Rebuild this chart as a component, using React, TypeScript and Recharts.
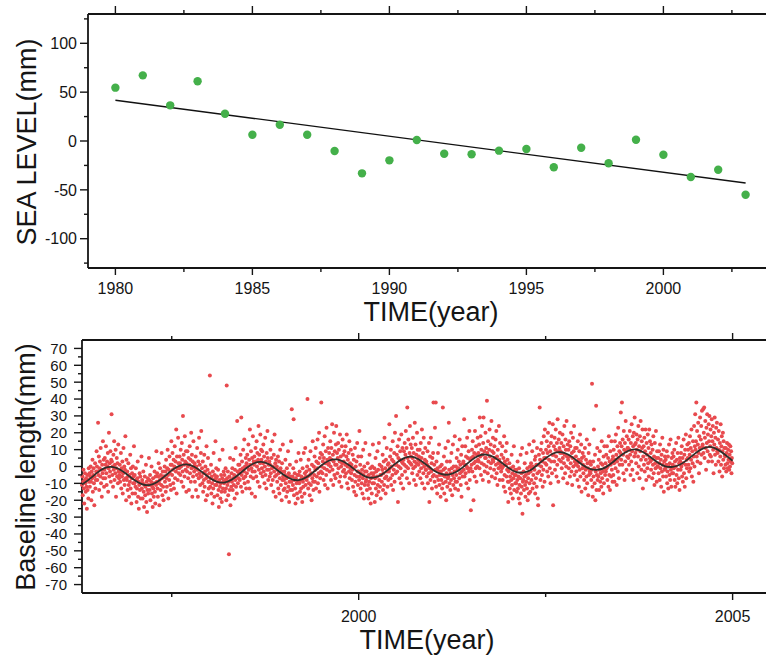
import { ComposedChart, Line, Scatter, XAxis, YAxis } from "recharts";

// ---- top panel: annual mean sea level ----
const seaYears = [
  1980, 1981, 1982, 1983, 1984, 1985, 1986, 1987, 1988, 1989, 1990, 1991,
  1992, 1993, 1994, 1995, 1996, 1997, 1998, 1999, 2000, 2001, 2002, 2003,
];
const seaLevel = [
  54.6, 67.2, 36.5, 61.1, 27.9, 6.4, 16.7, 6.4, -10.2, -33.1, -19.8, 1.0,
  -13.0, -13.6, -9.9, -8.2, -26.9, -6.9, -22.8, 1.3, -14.0, -36.8, -29.4, -55.0,
];
const trendYears = [1980, 2003];
const trendLevel = [41.7, -43.0];
const seaTicksX = [1980, 1982.5, 1985, 1987.5, 1990, 1992.5, 1995, 1997.5, 2000, 2002.5];
const seaTicksY = [-125, -100, -75, -50, -25, 0, 25, 50, 75, 100, 125];

// ---- bottom panel: baseline length, one sample every 0.005 yr ----
const SAMPLE_STEP = 0.005;
const baseline1996 = [
  -11, -6, -17, -9, -2, -13, -22, -8, -4, -10, -15, -7, -12, -25, -5, -14, -8, -19, -1, -9,
  -4, -12, -6, 0, -9, -20, -3, -7, 4, -15, -5, -1, -10, -23, -6, 2, -13, -8, -3, 9,
  0, -8, -3, 26, -5, 6, -14, -1, 3, -6, 11, -10, -2, -18, 1, -4, 15, -7, 4, -12,
  -2, 5, -7, 1, 12, -4, -11, 3, 0, 8, -15, -1, 20, -6, 2, -3, 9, -9, 4, 31,
  3, -5, 0, -12, 7, -2, 15, -8, 1, -4, 10, -18, -1, 5, -6, 2, -10, 13, -3, -7,
  -5, 1, -9, -3, 8, -13, -1, -6, 3, -16, -4, 11, -8, 0, -11, -2, 18, -7, -20, 4,
  -8, -3, -14, -6, 2, -11, -18, -5, -9, 7, -13, -1, -22, -7, -4, -16, 0, -10, -6, 12,
];
const baseline1997 = [
  -10, -5, -16, -12, -1, -8, -21, -13, -7, 3, -18, -9, -25, -11, -4, -14, -6, -19, -10, 6,
  -13, -8, -19, -10, -3, -15, -24, -11, -6, -17, -12, 1, -21, -9, -27, -14, -7, -16, -11, 5,
  -8, -14, -5, -20, -11, -9, 0, -16, -12, -24, -7, -13, -18, -10, -3, -15, -22, -6, -11, 9,
  -9, -4, -13, -18, -6, 2, -10, -23, -8, -1, -14, -5, -11, 8, -7, -17, -3, -12, -20, -6,
  -6, 0, -9, -3, -15, 4, -7, -12, -1, 10, -5, -19, -2, -8, 6, -4, -11, 1, -14, 15,
  1, -5, 8, -2, -10, 4, -13, 0, 12, -7, 3, -3, 22, -16, 6, -1, -8, 17, 2, -4,
  -1, 6, 2, -5, 10, 0, -9, 14, 4, -3, 30, -12, 7, 1, -6, 18, 3, -2, 9, -15,
  2, -3, 9, 0, -7, 5, -14, 1, 12, -4, 4, -9, 20, -1, 7, -18, 3, -6, 15, 0,
  -3, 2, -9, -1, 6, -14, 0, -5, 11, -2, -18, 3, -7, 17, -4, 1, -11, -6, 8, 21,
  -6, -1, -10, 3, -15, -4, -8, 7, -12, -3, 0, -20, -7, 12, -5, -17, -2, 5, -9, -13,
];
const baseline1998 = [
  -9, -4, 54, -12, -7, 1, -16, -6, -10, -22, -3, -13, 8, -8, -18, -5, -11, 15, -7, -1,
  -11, -6, -17, -9, -2, -14, -24, -8, 4, -12, -19, -10, -5, -15, -21, -7, 10, -13, -9, -3,
  -10, -5, -15, -8, -1, -13, -20, 48, -7, -11, -3, -17, -9, -52, -6, -14, 5, -23, -8, -12,
  -4, -9, -1, -14, -7, 4, -11, -5, -19, -2, -8, 11, -12, -6, -16, 27, -3, -10, 1, -7,
  -4, 1, -8, -2, 7, -12, 29, -5, 3, -15, -1, 10, -7, -3, 16, -10, 0, -6, 5, -13,
  2, -4, 7, 0, -9, 13, -2, 4, -13, 22, 1, -6, 9, -1, -16, 5, -3, 18, -7, 3,
  1, 6, -3, -18, 11, 3, -6, 15, 0, 8, -9, 4, 24, -2, 7, -12, 2, 19, -4, 10,
  4, -1, 9, -6, 2, 13, -3, 6, -10, 0, 17, -5, 3, -13, 8, -2, 21, 5, -8, 1,
  -2, 3, -6, 1, 10, -4, -11, 5, -1, 15, -8, 0, -15, 7, -3, 19, -6, 2, -18, 4,
  -5, 0, -9, -2, 6, -13, -4, 3, -16, -7, 10, -1, -11, -3, -20, 2, -8, 13, -6, -14,
];
const baseline1999 = [
  -8, -3, -13, -5, 4, -10, -18, -7, -1, -15, -6, 9, -12, -4, -21, -9, 1, -14, -6, 15,
  -9, 34, -14, -6, -11, -1, 28, -17, -8, -4, -13, -22, -7, 3, -10, -16, -5, -19, -9, 8,
  -5, -10, -3, -15, -8, 4, -13, -6, -18, -21, -1, -9, -12, 8, -7, -16, -4, 11, -11, -6,
  -3, -8, 0, 40, -6, -13, 4, -10, -2, -17, -5, 9, -11, -4, -20, 1, -7, 15, -9, -14,
  0, -5, 6, -9, -2, 11, -13, 3, -6, -1, 16, -10, 2, -4, 20, -15, 5, -7, 8, -3,
  38, 0, 7, -4, 3, 13, -8, 5, -1, 18, -11, 2, 9, -5, 23, -2, 4, -13, 11, 1,
  2, 8, -3, 5, 15, 0, -8, 11, 4, 25, -2, 7, -11, 3, 20, -5, 9, 1, -7, 13,
  24, 1, 8, -4, 5, 14, -1, 10, -9, 3, 19, -6, 6, 0, -12, 12, 2, 16, -3, 7,
  3, -2, 9, -6, 1, 12, -4, 6, 19, -10, 0, 4, -13, 8, -3, 15, -7, 2, -1, 10,
  -4, 1, -8, -2, 7, -12, -1, 4, -15, -5, 11, -9, 0, -17, 3, -6, 14, -3, -11, 6,
];
const baseline2000 = [
  -3, -8, 21, -6, 1, -13, -4, 6, -10, -2, -16, -7, 10, -5, -19, 0, -11, -3, 14, -9,
  -8, -3, -14, -6, 2, -11, -19, -5, -9, 7, -13, -1, -22, -7, -4, -16, 0, -10, 13, -6,
  -4, -10, -1, -21, -7, 5, -13, -3, -17, -6, 9, -11, -2, -15, 14, -8, 1, -12, -5, -19,
  -5, 0, -9, -2, 7, -14, -4, 3, -11, 17, -7, -1, -16, 4, -6, 11, -3, -12, 1, -8,
  2, -3, 25, -1, 6, -7, 10, -11, 0, 4, -5, 15, -14, 3, -2, 8, -9, 20, 1, -4,
  30, 1, 7, -3, 12, -21, 5, 0, 16, -7, 4, 9, -1, -10, 19, 3, -5, 11, 2, -13,
  4, 9, 1, 14, -3, 7, 21, 0, 11, -7, 35, 5, -1, 16, 3, -10, 8, 24, 2, 13,
  6, 1, 11, -4, 5, 17, -1, 8, -8, 3, 26, 0, 13, -11, 7, 2, 20, -5, 10, 4,
  1, 6, -3, 10, 3, -7, 14, -1, 5, 22, -10, 2, 8, -4, 17, 0, -13, 4, 11, -2,
  -2, 3, -6, 1, 9, -10, 0, -4, 14, -21, -1, 6, -8, 17, -3, 2, -13, 5, -6, 8,
];
const baseline2001 = [
  38, -5, 1, -9, 23, -2, 38, -12, 3, -6, -16, -1, 8, -8, -3, 13, -11, -5, 0, -18,
  -3, -8, 1, -13, -5, 35, -10, -2, 6, -16, -6, -1, 11, -9, -20, -4, 3, -12, -7, 15,
  -6, 26, -2, -10, 3, -14, -4, -8, 8, -1, -17, -5, 13, -11, 0, -7, -3, 18, -13, -9,
  0, -5, 5, -9, -2, 10, -14, -1, 3, -7, 16, -4, 1, -11, 7, -18, -3, 12, -6, 2,
  3, -2, 28, -6, 1, 12, -4, 6, -10, 0, 17, -1, 5, -13, 9, -3, 21, -8, 4, -1,
  -26, 5, 1, 10, -3, 15, 6, -20, 2, 8, -6, 21, 3, -1, 12, -9, 7, 0, 17, 4,
  8, 3, 13, -1, 29, 6, 18, -5, 10, 2, 24, 7, -8, 14, 29, 1, 9, -3, 5, 20,
  5, 11, 0, 39, 8, -4, 15, 3, -9, 10, 22, 6, -1, 13, 2, 27, -6, 9, 4, 17,
  3, 8, -2, 12, 5, -7, 16, 1, 21, -4, 6, -11, 10, 2, -1, 24, 4, -8, 14, 0,
  2, -3, 7, -1, 12, -8, 0, 5, -12, 18, -5, 3, -15, 9, 1, -6, 14, -2, 4, -9,
];
const baseline2002 = [
  -21, -3, -9, 2, -13, -6, -1, -16, -8, 7, -11, -4, -19, 0, -7, 12, -14, -5, -2, -10,
  -5, -10, -2, -15, -8, 3, -13, -6, -19, -1, -11, -22, -7, 7, -16, -4, -12, 11, -28, -9,
  -8, -3, -14, -6, 2, -11, -18, -5, -9, 8, -13, -1, -20, -7, -4, -16, 13, -10, 0, -15,
  -3, 2, -8, -1, 9, -13, 0, -5, 15, -10, -2, 4, -16, 6, -7, 1, -12, 11, -4, -19,
  -23, 1, 7, -3, 35, 4, -8, 10, 0, 14, -5, 3, -12, 8, -2, 18, 5, -9, 22, 2,
  5, 10, 1, 15, -3, 8, 20, -6, 12, 4, 26, -1, 9, -10, 14, 3, 18, -4, 7, 25,
  -23, 7, 12, 3, 17, -2, 10, 22, 6, -6, 14, 1, 28, 9, -9, 16, 4, 11, 20, 8,
  9, 3, 14, -1, 8, 19, 5, -7, 12, 2, 24, 7, -4, 16, 10, 0, 27, 6, -10, 13,
  4, 10, -1, 15, 6, -6, 12, 2, 20, -3, 8, -11, 5, 17, 0, 9, 24, -5, 3, 11,
  1, 6, -3, 11, 2, -8, 15, 0, 4, -12, 9, -2, 19, -6, 3, 13, -15, 5, -1, 8,
];
const baseline2003 = [
  1, -4, 6, -8, 0, 11, -13, -2, 4, -6, 16, -10, 2, -1, -17, 8, -5, 13, -3, 3,
  -4, 1, -8, -2, 49, -12, -18, 3, -6, 22, -1, -10, 7, -20, -3, 36, -14, -5, 11, -8,
  0, -6, 4, -14, -2, 9, -9, -4, 2, -12, 15, -7, 1, -3, -16, 6, -10, 12, -1, -5,
  2, -3, 7, -1, 12, -8, 0, 5, -12, 18, -5, 3, -14, 9, 1, -6, 15, -2, 4, -9,
  6, -5, 10, 2, -9, 15, 4, -1, 19, 7, -11, 3, 12, -3, 23, 5, -7, 9, 1, 14,
  8, 32, 4, 12, 38, 1, 16, 7, -4, 21, 10, -8, 14, 3, 27, 9, -2, 18, 6, 11,
  11, 5, 16, 1, 10, 21, 7, -5, 14, 3, 25, 9, -2, 18, 12, -8, 20, 6, 29, 13,
  8, 14, 2, 19, 10, -4, 16, 6, 24, 0, 12, -7, 18, 9, 27, 4, -2, 15, 11, 22,
  -13, 6, 12, 1, 17, -3, 9, 22, 4, -8, 14, 7, -1, 19, 2, 11, -6, 22, 5, 15,
  3, 8, -2, 13, 4, -7, 10, 1, 18, -4, 6, -11, 14, 2, -1, 21, 5, -9, 9, 0,
];
const baseline2004 = [
  0, 5, -4, 9, 2, -8, 13, -1, 4, -12, 7, -3, 17, 1, -6, 10, -15, 3, -2, 6,
  -1, 4, -6, 1, 9, -10, -3, 6, -13, 0, 13, -5, 2, -8, 16, -2, -12, 5, -4, 8,
  1, -4, 6, -1, 10, -8, 3, -12, 0, 14, -5, 4, -10, 8, -2, 17, -7, 2, -14, 5,
  3, -2, 8, 0, 12, -6, 5, -9, 2, 16, -4, 7, -12, 10, 1, 19, -7, 4, -1, 13,
  5, 10, 1, 14, -3, 7, 18, -1, 11, 4, 22, -6, 9, 2, 15, -9, 6, 24, 0, 12,
  31, 10, 15, 38, 6, 21, 3, 13, 26, 8, -4, 18, 11, 29, 2, 16, 24, 7, 33, 12,
  13, 34, 8, 20, 35, 5, 17, 27, 11, -2, 23, 14, 31, 9, 19, 3, 25, 15, 30, 7,
  12, 22, 6, 18, 28, 3, 15, 24, 10, -4, 20, 13, 29, 7, 17, 1, 23, 11, 26, 9,
  8, 16, 3, 21, 10, -3, 14, 6, 25, 1, 12, 18, -6, 9, 20, 4, 15, -1, 11, 7,
  6, 1, 11, -3, 8, 14, 2, -1, 10, 4, 13, -2, 7, 0, 12, 3, 9, -4, 5, 2,
];
const baselineYears = [
  { start: 1996.3, values: baseline1996 },
  { start: 1997, values: baseline1997 },
  { start: 1998, values: baseline1998 },
  { start: 1999, values: baseline1999 },
  { start: 2000, values: baseline2000 },
  { start: 2001, values: baseline2001 },
  { start: 2002, values: baseline2002 },
  { start: 2003, values: baseline2003 },
  { start: 2004, values: baseline2004 },
];

// fitted seasonal curve, read every 0.1 yr from 1996.3 to 2005.0
const FIT_START = 1996.3;
const FIT_STEP = 0.1;
const fitCurve = [
  -10.7, -7.5, -3.8, -1.0, -0.2, -1.6, -4.6,
  -8.0, -10.4, -11.0, -9.3, -6.0, -2.3, 0.4, 1.3, -0.1, -3.1,
  -6.5, -9.0, -9.5, -7.8, -4.6, -0.9, 1.9, 2.7, 1.3, -1.7,
  -5.1, -7.5, -8.1, -6.4, -3.1, 0.6, 3.4, 4.2, 2.8, -0.2,
  -3.6, -6.1, -6.6, -5.0, -1.7, 2.0, 4.8, 5.8, 4.3, 1.2,
  -2.2, -4.4, -4.8, -3.3, -0.2, 3.5, 6.3, 7.1, 5.7, 2.7,
  -0.7, -3.2, -3.6, -2.1, 1.3, 4.9, 7.7, 8.5, 7.1, 4.1,
  0.7, -1.5, -1.9, -0.5, 2.7, 6.4, 9.2, 10.1, 8.6, 5.6,
  2.4, 0.1, -0.2, 1.2, 4.2, 7.8, 10.6, 11.6, 10.0, 7.0,
  3.4,
];
const baselineTicksX = [1997.5, 2000, 2002.5, 2005];
const baselineTicksY = [
  -70, -65, -60, -55, -50, -45, -40, -35, -30, -25, -20, -15, -10, -5, 0,
  5, 10, 15, 20, 25, 30, 35, 40, 45, 50, 55, 60, 65, 70,
];

const seaData = seaYears.map((t, i) => ({ t, v: seaLevel[i] }));
const trendData = trendYears.map((t, i) => ({ t, v: trendLevel[i] }));
const baselineData = baselineYears.flatMap(({ start, values }) =>
  values.map((v, i) => ({ t: start + i * SAMPLE_STEP, v }))
);
const fitData = fitCurve.map((v, i) => ({ t: FIT_START + i * FIT_STEP, v }));

const FONT = "'Liberation Sans', Arial, Helvetica, sans-serif";
const INK = "#151515";
const BASE_X_DOMAIN = [1996.3, 2005.5];
const BASE_Y_DOMAIN = [-75, 75];

type Side = "top" | "bottom" | "left";

function makeTick(
  side: Side,
  isMajor: (v: number) => boolean,
  withLabel: boolean,
  opts: { major: number; minor: number; gap: number; fontSize: number }
) {
  return (props: any) => {
    const { x, y, payload } = props;
    const v = payload.value as number;
    const major = isMajor(v);
    const len = major ? opts.major : opts.minor;
    const text = withLabel && major;
    if (side === "bottom") {
      return (
        <g>
          <line x1={x} y1={y} x2={x} y2={y + len} stroke={INK} strokeWidth={1.4} />
          {text && (
            <text x={x} y={y + opts.gap} textAnchor="middle" fontSize={opts.fontSize} fontFamily={FONT} fill={INK}>
              {v}
            </text>
          )}
        </g>
      );
    }
    if (side === "top") {
      return <line x1={x} y1={y} x2={x} y2={y - len} stroke={INK} strokeWidth={1.4} />;
    }
    return (
      <g>
        <line x1={x} y1={y} x2={x - len} y2={y} stroke={INK} strokeWidth={1.4} />
        {text && (
          <text x={x - opts.gap} y={y} dy="0.36em" textAnchor="end" fontSize={opts.fontSize} fontFamily={FONT} fill={INK}>
            {v}
          </text>
        )}
      </g>
    );
  };
}

const axisLine = { stroke: INK, strokeWidth: 1.8 };

function SeaLevelChart() {
  const major5 = (v: number) => v % 5 === 0;
  const major50 = (v: number) => v % 50 === 0;
  return (
    <ComposedChart width={800} height={330} data={seaData} margin={{ top: 13, right: 27, bottom: 61, left: 87 }}>
      <XAxis
        dataKey="t"
        type="number"
        domain={[1979, 2004]}
        ticks={seaTicksX}
        interval={0}
        height={1}
        tickSize={0}
        tickMargin={0}
        tickLine={false}
        axisLine={axisLine}
        tick={makeTick("bottom", major5, true, { major: 7, minor: 4, gap: 26, fontSize: 16 })}
      />
      <XAxis
        xAxisId="top"
        orientation="top"
        dataKey="t"
        type="number"
        domain={[1979, 2004]}
        ticks={seaTicksX}
        interval={0}
        height={1}
        tickSize={0}
        tickMargin={0}
        tickLine={false}
        axisLine={axisLine}
        tick={makeTick("top", major5, false, { major: 8, minor: 4, gap: 0, fontSize: 16 })}
      />
      <YAxis
        dataKey="v"
        type="number"
        domain={[-130, 130]}
        ticks={seaTicksY}
        interval={0}
        width={1}
        tickSize={0}
        tickMargin={0}
        tickLine={false}
        axisLine={axisLine}
        tick={makeTick("left", major50, true, { major: 8, minor: 4, gap: 11, fontSize: 16 })}
      />
      <Line
        data={trendData}
        dataKey="v"
        type="linear"
        stroke="#111"
        strokeWidth={1.3}
        dot={false}
        isAnimationActive={false}
      />
      <Scatter
        data={seaData}
        dataKey="v"
        isAnimationActive={false}
        shape={(p: any) => <circle cx={p.cx} cy={p.cy} r={4.2} fill="#44b04a" />}
      />
    </ComposedChart>
  );
}

function BaselineChart() {
  const major5 = (v: number) => v % 5 === 0;
  const major10 = (v: number) => v % 10 === 0;
  return (
    <ComposedChart width={800} height={326} data={baselineData} margin={{ top: 9, right: 30, bottom: 62, left: 81 }}>
      <XAxis
        dataKey="t"
        type="number"
        domain={BASE_X_DOMAIN}
        ticks={baselineTicksX}
        interval={0}
        height={1}
        tickSize={0}
        tickMargin={0}
        tickLine={false}
        axisLine={axisLine}
        tick={makeTick("bottom", major5, true, { major: 7, minor: 4, gap: 29, fontSize: 16 })}
      />
      <XAxis
        xAxisId="top"
        orientation="top"
        dataKey="t"
        type="number"
        domain={BASE_X_DOMAIN}
        ticks={baselineTicksX}
        interval={0}
        height={1}
        tickSize={0}
        tickMargin={0}
        tickLine={false}
        axisLine={axisLine}
        tick={makeTick("top", major5, false, { major: 7, minor: 4, gap: 0, fontSize: 16 })}
      />
      <YAxis
        dataKey="v"
        type="number"
        domain={BASE_Y_DOMAIN}
        ticks={baselineTicksY}
        interval={0}
        width={1}
        tickSize={0}
        tickMargin={0}
        tickLine={false}
        axisLine={axisLine}
        tick={makeTick("left", major10, true, { major: 8, minor: 4, gap: 15, fontSize: 15 })}
      />
      <Scatter
        data={baselineData}
        dataKey="v"
        isAnimationActive={false}
        shape={(p: any) => <circle cx={p.cx} cy={p.cy} r={2} fill="#e84a4e" />}
      />
    </ComposedChart>
  );
}

// the fitted curve sits on top of the dots, so it gets its own transparent layer
function BaselineFitLayer() {
  return (
    <ComposedChart width={800} height={326} data={fitData} margin={{ top: 10, right: 30, bottom: 63, left: 82 }}>
      <XAxis dataKey="t" type="number" domain={BASE_X_DOMAIN} hide />
      <YAxis dataKey="v" type="number" domain={BASE_Y_DOMAIN} hide />
      <Line
        dataKey="v"
        type="natural"
        stroke="#2e2e2a"
        strokeWidth={1.8}
        dot={false}
        isAnimationActive={false}
      />
    </ComposedChart>
  );
}

export default function App() {
  return (
    <div
      style={{
        position: "absolute",
        top: 0,
        left: 0,
        width: 766,
        height: 656,
        overflow: "hidden",
        background: "#fff",
      }}
    >
      <div style={{ position: "absolute", top: 0, left: 0 }}>
        <SeaLevelChart />
      </div>
      <div style={{ position: "absolute", top: 330, left: 0 }}>
        <BaselineChart />
      </div>
      <div style={{ position: "absolute", top: 330, left: 0 }}>
        <BaselineFitLayer />
      </div>
      <svg
        width={766}
        height={656}
        style={{ position: "absolute", top: 0, left: 0, pointerEvents: "none" }}
      >
        <g fontFamily={FONT} fontSize={27} fill={INK}>
          <text x={36} y={142} textAnchor="middle" transform="rotate(-90 36 142)">
            SEA LEVEL(mm)
          </text>
          <text x={431} y={321} textAnchor="middle">
            TIME(year)
          </text>
          <text x={35} y={467} textAnchor="middle" transform="rotate(-90 35 467)">
            Baseline length(mm)
          </text>
          <text x={427} y={649} textAnchor="middle">
            TIME(year)
          </text>
        </g>
      </svg>
    </div>
  );
}
